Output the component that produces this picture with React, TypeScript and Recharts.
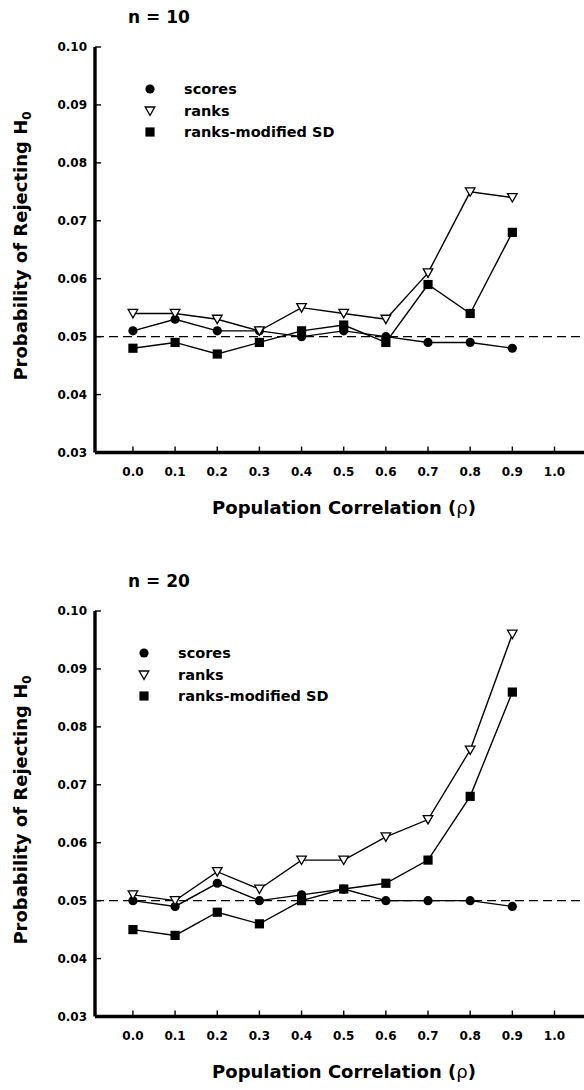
import { LineChart, Line, XAxis, YAxis, ReferenceLine } from "recharts";

// population correlation (x)
const rho = [0, 0.1, 0.2, 0.3, 0.4, 0.5, 0.6, 0.7, 0.8, 0.9];

// n = 10
const n10Scores = [0.051, 0.053, 0.051, 0.051, 0.05, 0.051, 0.05, 0.049, 0.049, 0.048];
const n10Ranks = [0.054, 0.054, 0.053, 0.051, 0.055, 0.054, 0.053, 0.061, 0.075, 0.074];
const n10Modified = [0.048, 0.049, 0.047, 0.049, 0.051, 0.052, 0.049, 0.059, 0.054, 0.068];

// n = 20
const n20Scores = [0.05, 0.049, 0.053, 0.05, 0.051, 0.052, 0.05, 0.05, 0.05, 0.049];
const n20Ranks = [0.051, 0.05, 0.055, 0.052, 0.057, 0.057, 0.061, 0.064, 0.076, 0.096];
const n20Modified = [0.045, 0.044, 0.048, 0.046, 0.05, 0.052, 0.053, 0.057, 0.068, 0.086];

const xTicks = [0, 0.1, 0.2, 0.3, 0.4, 0.5, 0.6, 0.7, 0.8, 0.9, 1.0];
const yTicks = [0.03, 0.04, 0.05, 0.06, 0.07, 0.08, 0.09, 0.1];
const seriesNames = ["scores", "ranks", "ranks-modified SD"];
const nominalAlpha = 0.05;

const FONT = '"DejaVu Sans", sans-serif';
const TICK_LEN = 6;

// inward tick marks drawn alongside the labels
const BottomTick = (p: any) => (
  <g>
    <line x1={p.x} x2={p.x} y1={p.y - 15} y2={p.y - 15 - TICK_LEN} stroke="#000" strokeWidth={1.4} />
    <text x={p.x} y={p.y + 8.5} textAnchor="middle" fontSize={12} fontWeight={700} fontFamily={FONT} fill="#000">
      {p.payload.value.toFixed(1)}
    </text>
  </g>
);

const TopTick = (p: any) => (
  <line x1={p.x} x2={p.x} y1={p.y} y2={p.y + TICK_LEN} stroke="#000" strokeWidth={1.4} />
);

const LeftTick = (p: any) => (
  <g>
    <line x1={p.x + 8} x2={p.x + 8 + TICK_LEN} y1={p.y} y2={p.y} stroke="#000" strokeWidth={1.4} />
    <text x={p.x} y={p.y + 4.3} textAnchor="end" fontSize={12} fontWeight={700} fontFamily={FONT} fill="#000">
      {p.payload.value.toFixed(2)}
    </text>
  </g>
);

const CircleDot = (p: any) => (
  <circle key={`c${p.index}`} cx={p.cx} cy={p.cy} r={4.6} fill="#000" />
);

const TriDot = (p: any) => {
  const { cx, cy } = p;
  return (
    <polygon
      key={`t${p.index}`}
      points={`${cx - 4.8},${cy - 4} ${cx + 4.8},${cy - 4} ${cx},${cy + 4.4}`}
      fill="#fff"
      stroke="#000"
      strokeWidth={1.3}
    />
  );
};

const SquareDot = (p: any) => (
  <rect key={`s${p.index}`} x={p.cx - 4.6} y={p.cy - 4.6} width={9.2} height={9.2} fill="#000" />
);

function LegendIcon({ kind }: { kind: number }) {
  return (
    <svg width={12} height={12} style={{ position: "absolute", left: -6, top: 4 }}>
      {kind === 0 && <circle cx={6} cy={6} r={4.6} fill="#000" />}
      {kind === 1 && <polygon points="1.2,2 10.8,2 6,10.4" fill="#fff" stroke="#000" strokeWidth={1.3} />}
      {kind === 2 && <rect x={1.4} y={1.4} width={9.2} height={9.2} fill="#000" />}
    </svg>
  );
}

function Panel({
  title,
  scores,
  ranks,
  modified,
  legendX,
}: {
  title: string;
  scores: number[];
  ranks: number[];
  modified: number[];
  legendX: number;
}) {
  const data = rho.map((r, i) => ({ rho: r, scores: scores[i], ranks: ranks[i], modified: modified[i] }));
  const textBase = { position: "absolute" as const, fontFamily: FONT, fontWeight: 700, color: "#000", whiteSpace: "nowrap" as const };
  const axisLine = { stroke: "#000", strokeWidth: 3.4 };

  return (
    <div style={{ position: "relative", width: 584, height: 564 }}>
      <div style={{ ...textBase, left: 128, top: 9, fontSize: 17, lineHeight: "17px" }}>{title}</div>

      <LineChart width={584} height={540} data={data} margin={{ top: 47, right: 0, bottom: 27.5, left: 0 }}>
        <XAxis
          xAxisId="top"
          orientation="top"
          type="number"
          dataKey="rho"
          domain={[-0.09, 1.07]}
          ticks={xTicks}
          allowDataOverflow
          height={0}
          tick={TopTick}
          tickSize={0}
          tickMargin={0}
          tickLine={false}
          axisLine={axisLine}
        />
        <XAxis
          type="number"
          dataKey="rho"
          domain={[-0.09, 1.07]}
          ticks={xTicks}
          allowDataOverflow
          height={60}
          tick={BottomTick}
          tickSize={0}
          tickMargin={15}
          tickLine={false}
          axisLine={axisLine}
        />
        <YAxis
          type="number"
          domain={[0.03, 0.1]}
          ticks={yTicks}
          allowDataOverflow
          width={95}
          tick={LeftTick}
          tickSize={0}
          tickMargin={8}
          tickLine={false}
          axisLine={axisLine}
        />
        <ReferenceLine y={nominalAlpha} stroke="#000" strokeWidth={1.3} strokeDasharray="9 5" />
        <Line dataKey="scores" stroke="#000" strokeWidth={1.4} dot={CircleDot} isAnimationActive={false} />
        <Line dataKey="modified" stroke="#000" strokeWidth={1.4} dot={SquareDot} isAnimationActive={false} />
        <Line dataKey="ranks" stroke="#000" strokeWidth={1.4} dot={TriDot} isAnimationActive={false} />
      </LineChart>

      {seriesNames.map((name, i) => (
        <div key={name} style={{ position: "absolute", left: legendX, top: 79 + i * 21.5, height: 20 }}>
          <LegendIcon kind={i} />
          <div style={{ ...textBase, left: 34, top: 0, fontSize: 14.5, lineHeight: "20px" }}>{name}</div>
        </div>
      ))}

      <div
        style={{
          ...textBase,
          left: 24,
          top: 246,
          fontSize: 18,
          lineHeight: "20px",
          transform: "translate(-50%, -50%) rotate(-90deg)",
        }}
      >
        Probability of Rejecting H<sub style={{ fontSize: 12, verticalAlign: "-4px" }}>0</sub>
      </div>

      <div
        style={{
          ...textBase,
          left: 344,
          top: 508,
          fontSize: 18,
          lineHeight: "20px",
          transform: "translate(-50%, -50%)",
        }}
      >
        Population Correlation (<span style={{ fontWeight: 400 }}>ρ</span>)
      </div>
    </div>
  );
}

export default function App() {
  return (
    <div style={{ position: "absolute", left: 0, top: 0, width: 584, height: 1090, overflow: "hidden", background: "#fff" }}>
      <Panel title="n = 10" scores={n10Scores} ranks={n10Ranks} modified={n10Modified} legendX={150} />
      <Panel title="n = 20" scores={n20Scores} ranks={n20Ranks} modified={n20Modified} legendX={144} />
    </div>
  );
}
